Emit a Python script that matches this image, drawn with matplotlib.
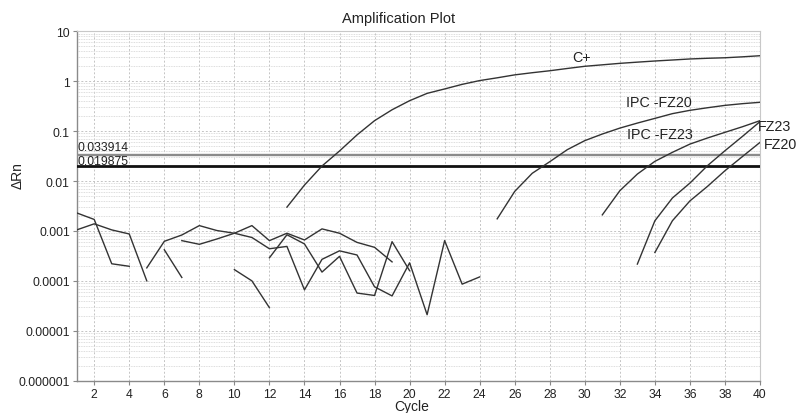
import matplotlib
matplotlib.use("Agg")
import matplotlib.pyplot as plt
import numpy as np
from matplotlib.ticker import LogLocator, NullFormatter

plt.rcParams['font.family'] = ['Liberation Sans', 'DejaVu Sans']

# ---------------- data ----------------
title = "Amplification Plot"
x_label = "Cycle"
y_label = "\u0394Rn"

x_ticks = list(range(2, 41, 2))
y_ticks = [1e-6, 1e-5, 1e-4, 1e-3, 1e-2, 1e-1, 1, 10]
y_tick_labels = ["0.000001", "0.00001", "0.0001", "0.001", "0.01", "0.1", "1", "10"]

threshold_values = [0.033914, 0.019875]
threshold_labels = ["0.033914", "0.019875"]

# amplification curves (start cycle, values per cycle)
cplus_start = 13
cplus_values = [0.0030, 0.0083, 0.020, 0.040, 0.084, 0.162, 0.268, 0.407, 0.571,
                0.70, 0.865, 1.03, 1.17, 1.34, 1.48, 1.62, 1.80, 1.99, 2.13, 2.28,
                2.41, 2.54, 2.66, 2.79, 2.88, 2.95, 3.08, 3.24]

ipc20_start = 25
ipc20_values = [0.00175, 0.0062, 0.0143, 0.0244, 0.0425, 0.0645, 0.0875, 0.115,
                0.145, 0.180, 0.224, 0.261, 0.294, 0.328, 0.355, 0.378]

ipc23_start = 31
ipc23_values = [0.0021, 0.0064, 0.0138, 0.0248, 0.0376, 0.055, 0.0728, 0.0946,
                0.1225, 0.162]

fz23_start = 33
fz23_values = [0.000217, 0.0016, 0.00457, 0.0091, 0.0203, 0.0405, 0.0785, 0.155]

fz20_start = 34
fz20_values = [0.00037, 0.0016, 0.0040, 0.0078, 0.0161, 0.031, 0.0595]

# baseline noise traces (start cycle, values per cycle)
noise_a_start = 1
noise_a_values = [0.0023, 0.0017, 0.00022, 0.000196]

noise_b_start = 1
noise_b_values = [0.00105, 0.00139, 0.00105, 0.00087, 0.0001]

noise_c_start = 5
noise_c_values = [0.000182, 0.00062, 0.00083, 0.00128, 0.00102, 0.00090, 0.00074,
                  0.00044, 0.00049, 0.000066, 0.00027, 0.00040, 0.00033, 0.000076,
                  0.000050, 0.00023, 0.000021, 0.00064, 0.000086, 0.00012]

noise_d_start = 7
noise_d_values = [0.00064, 0.00054, 0.00069, 0.00090, 0.00128, 0.00064, 0.00090,
                  0.00066, 0.0011, 0.00090, 0.00059, 0.00047, 0.00024]

noise_e_start = 12
noise_e_values = [0.00029, 0.00084, 0.00055, 0.00015, 0.00031, 0.000057, 0.000051,
                  0.00061, 0.00016]

noise_g_start = 6
noise_g_values = [0.00042, 0.000117]

noise_h_start = 10
noise_h_values = [0.000168, 0.0001, 0.000029]

curve_labels = ["C+", "IPC -FZ20", "IPC -FZ23", "FZ23", "FZ20"]

# ---------------- figure ----------------
W, H = 796, 414
fig = plt.figure(figsize=(W / 100, H / 100), dpi=100)
ax = fig.add_axes([76.7 / W, 1 - 381.7 / H, (760 - 76.7) / W, (381.7 - 32.3) / H])
ax.set_yscale('log')
ax.set_xlim(1, 40)
ax.set_ylim(1e-6, 10)

# grid
ax.set_xticks(x_ticks)
ax.set_yticks(y_ticks)
ax.set_yticklabels(y_tick_labels)
ax.yaxis.set_minor_locator(LogLocator(base=10, subs=np.arange(2, 10), numticks=50))
ax.yaxis.set_minor_formatter(NullFormatter())
ax.grid(True, which='major', axis='both', color='#c4c4c4', linestyle=(0, (2, 2)), linewidth=0.7)
ax.grid(True, which='minor', axis='y', color='#d2d2d2', linestyle=(0, (1, 1)), linewidth=0.6)
ax.set_axisbelow(True)

ax.tick_params(axis='both', which='major', labelsize=8.7, colors='#222222', length=3,
               width=0.8, color='#888888', pad=2)
ax.tick_params(axis='y', which='minor', length=0)

for side in ['left', 'bottom']:
    ax.spines[side].set_color('#8a8a8a')
    ax.spines[side].set_linewidth(1.0)
for side in ['top', 'right']:
    ax.spines[side].set_color('#c8c8c8')
    ax.spines[side].set_linewidth(0.8)

# thresholds
ax.axhline(threshold_values[0], color='#8c8c8c', linewidth=1.7, zorder=3)
ax.axhline(threshold_values[1], color='#111111', linewidth=2.0, zorder=3)
ax.text(1.07, 0.048, threshold_labels[0], fontsize=8.7, color='#222222', va='center', ha='left')
ax.text(1.07, 0.0252, threshold_labels[1], fontsize=8.7, color='#222222', va='center', ha='left')

line_kw = dict(color='#333333', linewidth=1.0, zorder=4)

def draw(start, values):
    xs = np.arange(start, start + len(values))
    ax.plot(xs, values, **line_kw)

for s, v in [(cplus_start, cplus_values), (ipc20_start, ipc20_values),
             (ipc23_start, ipc23_values), (fz23_start, fz23_values),
             (fz20_start, fz20_values), (noise_a_start, noise_a_values),
             (noise_b_start, noise_b_values), (noise_c_start, noise_c_values),
             (noise_d_start, noise_d_values), (noise_e_start, noise_e_values),
             (noise_g_start, noise_g_values), (noise_h_start, noise_h_values)]:
    draw(s, v)

# curve labels
lab_kw = dict(fontsize=10.3, color='#222222', va='center', clip_on=False, zorder=5)
ax.text(29.8, 3.05, curve_labels[0], ha='center', **lab_kw)
ax.text(34.2, 0.383, curve_labels[1], ha='center', **lab_kw)
ax.text(34.3, 0.0875, curve_labels[2], ha='center', **lab_kw)
ax.text(39.9, 0.126, curve_labels[3], ha='left', **lab_kw)
ax.text(40.2, 0.055, curve_labels[4], ha='left', **lab_kw)

# titles
fig.text(399 / W, 1 - 19 / H, title, fontsize=10.5, ha='center', va='center', color='#222222')
fig.text(412 / W, 1 - 407 / H, x_label, fontsize=10, ha='center', va='center', color='#222222')
fig.text(18 / W, 1 - 176 / H, y_label, fontsize=10, ha='center', va='center',
         rotation=90, color='#222222')

fig.savefig('out.png', dpi=100)
